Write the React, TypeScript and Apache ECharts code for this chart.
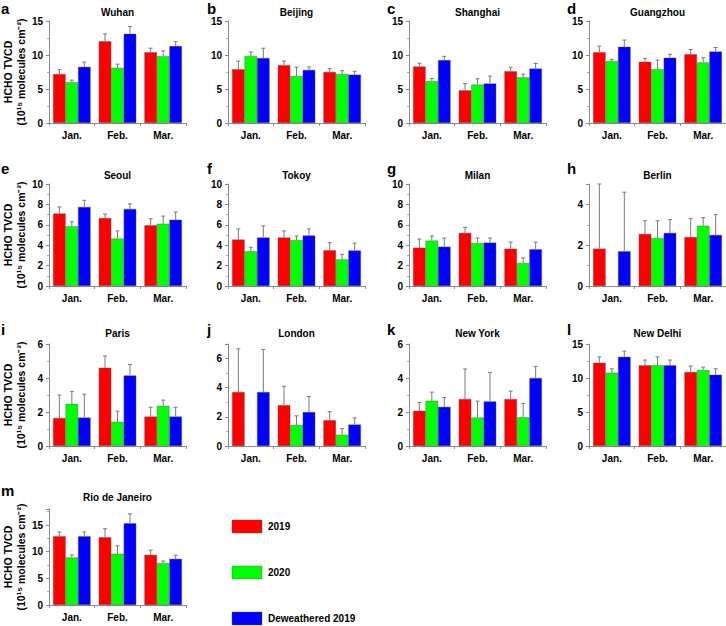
import React, { useEffect, useRef } from "react";
import * as echarts from "echarts";

const MONTHS = ["Jan.", "Feb.", "Mar."];
const CITY_NAMES = ["Wuhan", "Beijing", "Shanghai", "Guangzhou", "Seoul", "Tokoy", "Milan", "Berlin", "Paris", "London", "New York", "New Delhi", "Rio de Janeiro"];
const LETTERS = ["a", "b", "c", "d", "e", "f", "g", "h", "i", "j", "k", "l", "m"];
const SERIES_NAMES = ["2019", "2020", "Deweathered 2019"];
const SERIES_COLORS = ["#ff0000", "#00ff00", "#0000ff"];
const Y_MAX = [15, 15, 15, 15, 10, 10, 10, 5, 6, 7, 6, 15, 18];
const Y_INTERVAL = [5, 5, 5, 5, 2, 2, 2, 2, 2, 2, 2, 5, 5];

// 2019 means and upper error magnitudes
const V2019 = [
  [7.2, 12.0, 10.4], [7.9, 8.5, 7.5], [8.3, 4.8, 7.6], [10.4, 9.0, 10.1],
  [7.1, 6.65, 5.95], [4.55, 4.75, 3.5], [3.75, 5.2, 3.65], [1.83, 2.55, 2.4],
  [1.65, 4.6, 1.73], [3.7, 2.8, 1.77], [2.07, 2.76, 2.76], [12.25, 11.85, 10.87],
  [12.9, 12.7, 9.4],
];
const E2019 = [
  [0.65, 1.1, 0.6], [1.2, 0.6, 0.5], [0.5, 1.0, 0.6], [0.9, 0.5, 0.7],
  [0.65, 0.4, 0.65], [1.05, 0.65, 0.75], [0.85, 0.55, 0.65], [3.17, 0.65, 0.9],
  [1.35, 0.7, 0.55], [2.97, 1.3, 0.58], [0.49, 1.77, 0.47], [0.85, 0.79, 0.89],
  [0.8, 1.6, 0.9],
];
// 2020
const V2020 = [
  [6.0, 8.1, 9.8], [9.85, 6.9, 7.2], [6.15, 5.65, 6.7], [9.1, 7.9, 8.9],
  [5.85, 4.65, 6.1], [3.4, 4.5, 2.6], [4.45, 4.2, 2.25], [null, 2.35, 2.95],
  [2.48, 1.42, 2.36], [null, 1.44, 0.77], [2.66, 1.67, 1.69], [10.77, 11.85, 11.17],
  [8.9, 9.6, 7.85],
];
const E2020 = [
  [0.3, 0.55, 0.8], [0.6, 1.3, 0.5], [0.4, 0.85, 0.5], [0.25, 1.35, 0.7],
  [0.45, 0.75, 0.75], [0.4, 0.4, 0.5], [0.45, 0.5, 0.5], [null, 0.85, 0.4],
  [0.72, 0.63, 0.34], [null, 0.63, 0.42], [0.51, 0.97, 0.81], [0.59, 1.25, 0.43],
  [0.5, 1.5, 0.4],
];
// Deweathered 2019
const VDEW = [
  [8.25, 13.1, 11.3], [9.55, 7.8, 7.1], [9.25, 5.8, 8.0], [11.2, 9.6, 10.5],
  [7.75, 7.55, 6.5], [4.75, 4.95, 3.48], [3.85, 4.25, 3.6], [1.7, 2.6, 2.5],
  [1.67, 4.15, 1.73], [3.7, 2.33, 1.47], [2.3, 2.62, 4.0], [13.1, 11.85, 10.48],
  [12.9, 15.3, 8.65],
];
const EDEW = [
  [0.7, 1.1, 0.65], [1.45, 0.45, 0.5], [0.55, 1.1, 0.75], [1.0, 0.5, 0.6],
  [0.65, 0.5, 0.75], [1.15, 0.65, 0.72], [0.85, 0.45, 0.7], [2.9, 0.65, 1.0],
  [1.38, 0.65, 0.55], [2.93, 1.07, 0.46], [0.55, 1.71, 0.68], [0.85, 0.79, 0.88],
  [0.8, 1.8, 0.7],
];

const FONT = "'Liberation Sans', Arial, Helvetica, sans-serif";
const COL_LEFT = [49, 228, 409, 589];
const ROW_BOTTOM = [123, 286, 446, 605];
const PLOT_W = 137;
const PLOT_H = [102, 102, 102, 96];
const LETTER_X = [1, 207, 387, 567];
const LETTER_Y = [8, 168, 329, 490];
const TITLE_Y = [12, 175, 333, 497];
const LEGEND_X = 232;
const LEGEND_Y = [520, 566, 612];
const GAP = 0.18;

export default function App() {
  const ref = useRef<HTMLDivElement>(null);
  useEffect(() => {
    document.body.style.margin = "0";
    const chart = echarts.init(ref.current!, null, { renderer: "svg" });
    const values = [V2019, V2020, VDEW];
    const errs = [E2019, E2020, EDEW];
    const grids: any[] = [];
    const xAxes: any[] = [];
    const yAxes: any[] = [];
    const series: any[] = [];
    const graphic: any[] = [];

    CITY_NAMES.forEach((city, k) => {
      const row = Math.floor(k / 4);
      const col = k % 4;
      const h = PLOT_H[row];
      const top = ROW_BOTTOM[row] - h;
      const left = COL_LEFT[col];
      grids.push({ left, top, width: PLOT_W, height: h });
      xAxes.push({
        type: "category",
        gridIndex: k,
        data: MONTHS,
        axisLine: { lineStyle: { color: "#8a8a8a", width: 1 } },
        axisTick: { show: true, length: 3, lineStyle: { color: "#8a8a8a" } },
        axisLabel: { fontSize: 10, fontWeight: "bold", color: "#000", margin: 7, fontFamily: FONT },
      });
      const maxIsTick = Y_MAX[k] % Y_INTERVAL[k] === 0;
      yAxes.push({
        type: "value",
        gridIndex: k,
        min: 0,
        max: Y_MAX[k],
        interval: Y_INTERVAL[k],
        splitLine: { show: false },
        axisLine: { show: true, lineStyle: { color: "#8a8a8a", width: 1 } },
        axisTick: { show: true, length: 3, lineStyle: { color: "#8a8a8a" } },
        minorTick: { show: true, splitNumber: 2, length: 2, lineStyle: { color: "#aaa" } },
        axisLabel: { fontSize: 10, fontWeight: "bold", color: "#000", margin: 6, fontFamily: FONT, showMaxLabel: maxIsTick },
      });
      for (let s = 0; s < 3; s++) {
        series.push({
          type: "bar",
          name: SERIES_NAMES[s],
          xAxisIndex: k,
          yAxisIndex: k,
          data: values[s][k].map((v) => (v == null ? "-" : v)),
          barGap: "0%",
          barCategoryGap: GAP * 100 + "%",
          itemStyle: { color: SERIES_COLORS[s], borderColor: "#555", borderWidth: 0.4 },
        });
      }
      const errData: any[] = [];
      for (let m = 0; m < 3; m++) {
        for (let s = 0; s < 3; s++) {
          const v = values[s][k][m];
          const e = errs[s][k][m];
          if (v != null && e != null) errData.push([m, s, v, e]);
        }
      }
      series.push({
        type: "custom",
        xAxisIndex: k,
        yAxisIndex: k,
        z: 5,
        encode: { x: 0, y: 2 },
        data: errData,
        renderItem: (params: any, api: any) => {
          const m = api.value(0);
          const s = api.value(1);
          const v = api.value(2);
          const e = api.value(3);
          const base = api.coord([m, v]);
          const topP = api.coord([m, v + e]);
          const band = api.size([1, 0])[0];
          const bw = (band * (1 - GAP)) / 3;
          const x = base[0] + (s - 1) * bw;
          return {
            type: "group",
            children: [
              { type: "line", shape: { x1: x, y1: base[1], x2: x, y2: topP[1] }, style: { stroke: "#7a7a7a", lineWidth: 1 } },
              { type: "line", shape: { x1: x - 2, y1: topP[1], x2: x + 2, y2: topP[1] }, style: { stroke: "#7a7a7a", lineWidth: 1 } },
            ],
          };
        },
      });
      graphic.push({
        type: "text",
        x: left + PLOT_W / 2,
        y: TITLE_Y[row],
        style: { text: city, align: "center", verticalAlign: "middle", fontSize: 10, fontWeight: "bold", fontFamily: FONT, fill: "#000" },
      });
      graphic.push({
        type: "text",
        x: LETTER_X[col],
        y: LETTER_Y[row],
        style: { text: LETTERS[k], align: "left", verticalAlign: "middle", fontSize: 15, fontWeight: "bold", fontFamily: FONT, fill: "#000" },
      });
      if (col === 0) {
        const cy = top + h / 2;
        graphic.push({
          type: "text",
          x: 8,
          y: cy,
          rotation: Math.PI / 2,
          style: { text: "HCHO TVCD", align: "center", verticalAlign: "middle", fontSize: 10.5, fontWeight: "bold", fontFamily: FONT, fill: "#000" },
        });
        graphic.push({
          type: "text",
          x: 21,
          y: cy,
          rotation: Math.PI / 2,
          style: { text: "(10¹⁵ molecules cm⁻²)", align: "center", verticalAlign: "middle", fontSize: 10.5, fontWeight: "bold", fontFamily: FONT, fill: "#000" },
        });
      }
    });

    SERIES_NAMES.forEach((name, s) => {
      graphic.push({
        type: "rect",
        shape: { x: LEGEND_X, y: LEGEND_Y[s], width: 30, height: 13 },
        style: { fill: SERIES_COLORS[s], stroke: "#555", lineWidth: 0.4 },
      });
      graphic.push({
        type: "text",
        x: LEGEND_X + 36,
        y: LEGEND_Y[s] + 6.5,
        style: { text: name, align: "left", verticalAlign: "middle", fontSize: 10, fontWeight: "bold", fontFamily: FONT, fill: "#000" },
      });
    });

    chart.setOption({
      animation: false,
      textStyle: { fontFamily: FONT },
      grid: grids,
      xAxis: xAxes,
      yAxis: yAxes,
      series,
      graphic,
    });
    return () => chart.dispose();
  }, []);
  return <div ref={ref} style={{ width: 726, height: 626 }} />;
}
